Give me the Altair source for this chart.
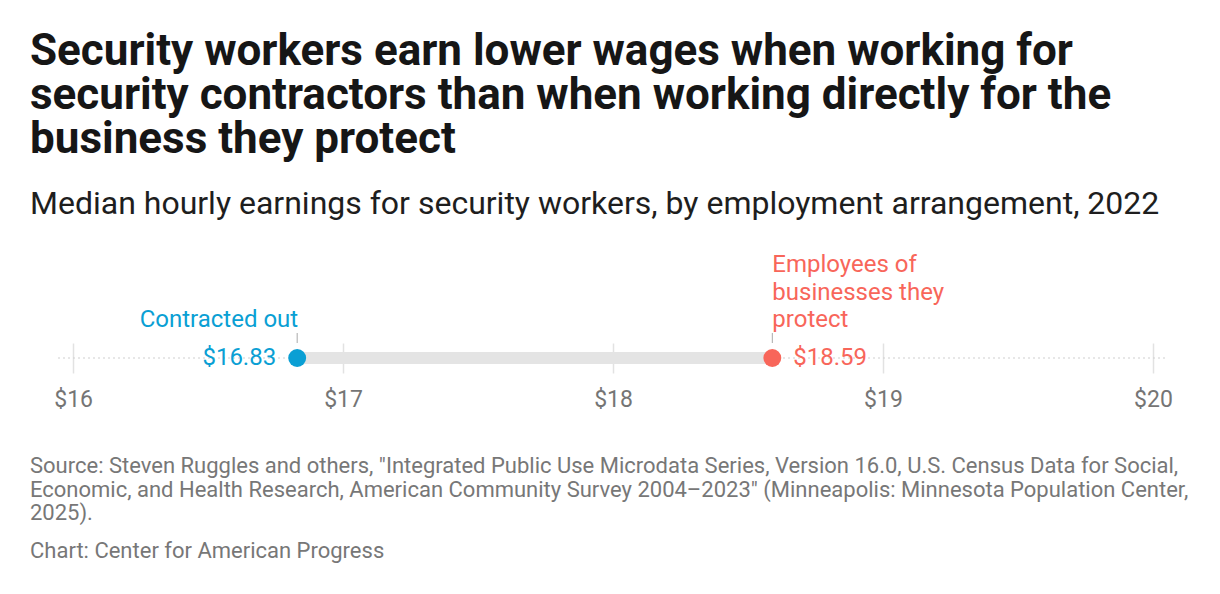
import altair as alt
import pandas as pd

# ---- data ----
categories = ["Contracted out", "Employees of businesses they protect"]
annotations = ["Contracted out", "Employees of\nbusinesses they\nprotect"]
values = [16.83, 18.59]
value_labels = ["$16.83", "$18.59"]
colors = ["#0a9fd4", "#f8665a"]
tick_values = [16, 17, 18, 19, 20]
domain = [15.944, 20.052]

title_lines = [
    "Security workers earn lower wages when working for",
    "security contractors than when working directly for the",
    "business they protect",
]
subtitle = "Median hourly earnings for security workers, by employment arrangement, 2022"
source_lines = [
    'Source: Steven Ruggles and others, "Integrated Public Use Microdata Series, Version 16.0, U.S. Census Data for Social,',
    'Economic, and Health Research, American Community Survey 2004\u20132023" (Minneapolis: Minnesota Population Center,',
    "2025).",
]
credit = "Chart: Center for American Progress"

FONT = "Roboto"
W, H = 1109, 30

df = pd.DataFrame({"cat": categories, "ann": annotations, "value": values, "label": value_labels})
span = pd.DataFrame({"lo": [min(values)], "hi": [max(values)]})

xscale = alt.Scale(domain=domain, nice=False, zero=False)
color = alt.Color("cat:N", scale=alt.Scale(domain=categories, range=colors), legend=None)

base_axis = alt.Axis(
    values=tick_values, labelExpr="'$' + datum.value", grid=True, gridColor="#e2e2e2",
    gridWidth=1.5, domain=False, ticks=False, labelFontSize=23, labelColor="#757575",
    labelFont=FONT, labelPadding=15, title=None,
)

axis_layer = alt.Chart(df).mark_point(opacity=0).encode(
    x=alt.X("value:Q", scale=xscale, axis=base_axis)
)

dotted = alt.Chart(span).mark_rule(color="#cfcfcf", strokeDash=[2, 3], strokeWidth=1.2).encode(
    x=alt.X(datum=domain[0], scale=xscale), x2=alt.X2(datum=domain[1]), y=alt.value(H / 2)
)

bar = alt.Chart(span).mark_rule(color="#e4e4e4", strokeWidth=12).encode(
    x=alt.X("lo:Q", scale=xscale), x2="hi:Q", y=alt.value(H / 2)
)

dots = alt.Chart(df).mark_circle(size=320, opacity=1).encode(
    x=alt.X("value:Q", scale=xscale), y=alt.value(H / 2), color=color
)

connect = alt.Chart(df).mark_rule(color="#aaaaaa", strokeWidth=1).encode(
    x=alt.X("value:Q", scale=xscale), y=alt.value(-10), y2=alt.value(0)
)

lab_left = alt.Chart(df).transform_filter(alt.datum.cat == categories[0]).mark_text(
    align="right", baseline="middle", dx=-21, fontSize=24, font=FONT
).encode(x=alt.X("value:Q", scale=xscale), y=alt.value(H / 2), text="label:N", color=color)

lab_right = alt.Chart(df).transform_filter(alt.datum.cat == categories[1]).mark_text(
    align="left", baseline="middle", dx=21, fontSize=24, font=FONT
).encode(x=alt.X("value:Q", scale=xscale), y=alt.value(H / 2), text="label:N", color=color)

ann_left = alt.Chart(df).transform_filter(alt.datum.cat == categories[0]).mark_text(
    align="right", baseline="alphabetic", dx=1, fontSize=24, font=FONT
).encode(x=alt.X("value:Q", scale=xscale), y=alt.value(-16), text="ann:N", color=color)

ann_right = alt.Chart(df).transform_filter(alt.datum.cat == categories[1]).mark_text(
    align="left", baseline="alphabetic", dx=0, fontSize=24, font=FONT, lineBreak="\n", lineHeight=27.5
).encode(x=alt.X("value:Q", scale=xscale), y=alt.value(-71), text="ann:N", color=color)

# ---- titles and footer as text ----
text_rows = pd.DataFrame({
    "t": title_lines + [subtitle] + source_lines + [credit],
    "kind": ["title"] * 3 + ["sub"] + ["src"] * 3 + ["credit"],
    "y": [-278, -234, -190, -129, 130, 154, 177, 215],
})

def text_layer(kind, size, weight, col):
    return alt.Chart(text_rows).transform_filter(alt.datum.kind == kind).mark_text(
        align="left", baseline="alphabetic", fontSize=size, fontWeight=weight, font=FONT, color=col
    ).encode(x=alt.value(-28), y=alt.Y("y:Q", scale=None, axis=None), text="t:N")

titles = text_layer("title", 44, "bold", "#161616")
sub = text_layer("sub", 32, "normal", "#1e1e1e")
src = text_layer("src", 22, "normal", "#777777")
cred = text_layer("credit", 22, "normal", "#777777")

chart = alt.layer(
    axis_layer, dotted, bar, connect, dots, lab_left, lab_right, ann_left, ann_right,
    titles, sub, src, cred
).properties(
    width=W, height=H,
    background="white",
    autosize=alt.AutoSizeParams(type="none"),
    padding={"left": 50, "top": 335, "right": 40, "bottom": 200},
).configure_view(strokeWidth=0, stroke="transparent")

chart.save("out.html", embed_options={"renderer": "svg", "actions": False})
